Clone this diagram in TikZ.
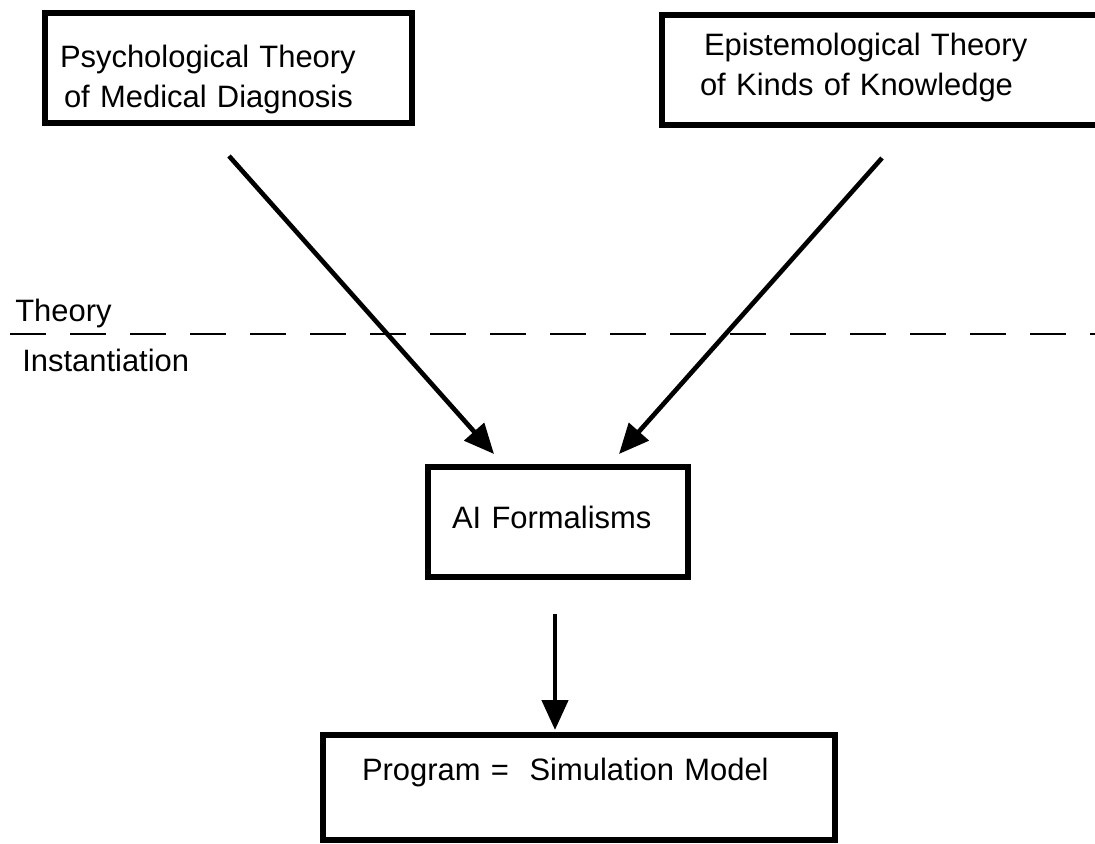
\documentclass[tikz,border=0pt]{standalone}
\usepackage{fontspec}
\setmainfont{Liberation Sans}
\usetikzlibrary{arrows.meta}
\tikzset{
  box/.style={draw, line width=4.5pt, outer sep=0pt, inner ysep=0pt, align=left,
    anchor=north west, font=\fontsize{22}{29}\selectfont},
  arr/.style={line width=3.3pt, -{Triangle[length=0.75cm,width=0.65cm]}},
  lbl/.style={inner sep=0pt, anchor=base west, font=\fontsize{22}{29}\selectfont}
}
\begin{document}
\begin{tikzpicture}[x=0.025cm,y=-0.025cm]
    \clip (0,0) rectangle (1095,843);
    \node[box, inner xsep=0.375cm, text width=8.425cm, text height=1.35cm, text depth=1.4cm]
        (psy) at (45,13) {Psychological Theory\\ \hspace*{0.1cm}of Medical Diagnosis};
    \node[box, inner xsep=0.95cm, text width=9.3cm, text height=1cm, text depth=1.75cm]
        (epi) at (662,15) {\hspace*{0.1cm}Epistemological Theory\\ of Kinds of Knowledge};
    \node[box, inner xsep=0.6cm, text width=5.3cm, text height=1.525cm, text depth=1.225cm]
        (ai) at (428,467) {AI Formalisms};
    \node[box, inner xsep=0.975cm, text width=10.85cm, text height=1.125cm, text depth=1.5cm]
        (prog) at (323,735) {Program = \ Simulation Model};
    \node[lbl] (th) at (15,321) {Theory};
    \node[lbl] (inst) at (22,371) {Instantiation};
    \coordinate (dl) at (10,334);
    \coordinate (dr) at (1095,334);
    \draw [line width=1.8pt, dash pattern=on 0.9cm off 0.6cm] (dl) -- (dr);
    \coordinate (psyout) at (229,156);
    \coordinate (aiinl) at (494,454);
    \coordinate (epiout) at (882,158);
    \coordinate (aiinr) at (619,454);
    \coordinate (aiout) at (555,614);
    \coordinate (progin) at (555,730);
    \draw [arr] (psyout) -- (aiinl);
    \draw [arr] (epiout) -- (aiinr);
    \draw [arr] (aiout) -- (progin);
\end{tikzpicture}
\end{document}
